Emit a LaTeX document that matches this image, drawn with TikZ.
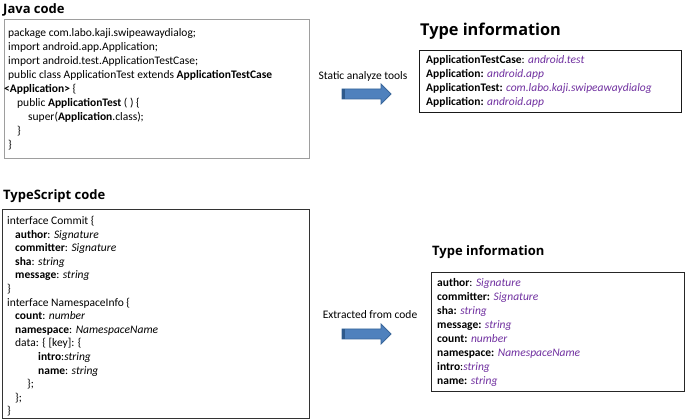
\documentclass[tikz,border=0pt]{standalone}
\usepackage{fontspec}
\setmainfont{Carlito}
\newfontfamily\headfont{Open Sans}
\definecolor{typ}{HTML}{7030A0}
\definecolor{arrfill}{HTML}{4F81BD}
\definecolor{arrdraw}{HTML}{3A679B}
\definecolor{arrdark}{HTML}{2E5A8C}
\newcommand\ty[1]{\textcolor{typ}{\textit{#1}}}
\begin{document}
\begin{tikzpicture}[x=1pt,y=-1pt,
  code/.style={anchor=base west, inner sep=0pt, font=\fontsize{11.5}{13}\selectfont},
  head/.style={anchor=base west, inner sep=0pt, font=\headfont\bfseries\fontsize{13}{15}\selectfont},
  bighead/.style={anchor=base west, inner sep=0pt, font=\headfont\bfseries\fontsize{16.3}{18}\selectfont},
  lbl/.style={anchor=base, inner sep=0pt, font=\fontsize{11.5}{13}\selectfont},
  box/.style={draw, line width=0.9pt, inner sep=0pt, fill=white},
  blockarrow/.style={fill=arrfill, draw=arrdraw, line width=0.8pt, line join=miter}]
\useasboundingbox (0,0) rectangle (685,419);
\fill[white] (0,0) rectangle (685,419);

% headings
\node[head] (hjava) at (3,14) {Java code};
\node[head] (hts) at (3,200) {TypeScript code};
\node[bighead] (hti1) at (420,36) {Type information};
\node[head] (hti2) at (432,256) {Type information};

% boxes
\node[box, draw=black!38, minimum width=305pt, minimum height=139pt] (javabox) at (156.5,88.5) {};
\node[box, draw=black!80, minimum width=307pt, minimum height=209pt] (tsbox) at (155.5,313.5) {};
\node[box, draw=black!90, minimum width=262pt, minimum height=62pt] (tibox1) at (550,81) {};
\node[box, draw=black!85, minimum width=253pt, minimum height=119pt] (tibox2) at (557.5,331.5) {};

% Java code
\foreach \x/\t [count=\i] in {
  8/{package com.labo.kaji.swipeawaydialog;},
  8/{import android.app.Application;},
  8/{import android.test.ApplicationTestCase;},
  8/{public class ApplicationTest extends \textbf{ApplicationTestCase}},
  4/{\textbf{<Application>} \{},
  17/{public \textbf{ApplicationTest} ( ) \{},
  28/{super(\textbf{Application}.class);},
  17/{\}},
  8/{\}}}
  \node[code] (j\i) at (\x, {37+14*(\i-1)}) {\t};

% Type info 1
\foreach \t [count=\i] in {
  {\textbf{ApplicationTestCase}: \ty{android.test}},
  {\textbf{Application:} \ty{android.app}},
  {\textbf{ApplicationTest:} \ty{com.labo.kaji.swipeawaydialog}},
  {\textbf{Application:} \ty{android.app}}}
  \node[code] (ta\i) at (426, {63.5+14*(\i-1)}) {\t};

% TypeScript code
\foreach \x/\t [count=\i] in {
  7/{interface Commit \{},
  15/{\textbf{author}: \textit{Signature}},
  15/{\textbf{committer}: \textit{Signature}},
  15/{\textbf{sha}: \textit{string}},
  15/{\textbf{message}: \textit{string}},
  7/{\}},
  7/{interface NamespaceInfo \{},
  15/{\textbf{count}: \textit{number}},
  15/{\textbf{namespace}: \textit{NamespaceName}},
  15/{data: \{ [key]: \{},
  38/{\textbf{intro}:\textit{string}},
  38/{\textbf{name}: \textit{string}},
  27/{\};},
  15/{\};},
  7/{\}}}
  \node[code] (s\i) at (\x, {224.5+13.6*(\i-1)}) {\t};

% Type info 2
\foreach \t [count=\i] in {
  {\textbf{author}: \ty{Signature}},
  {\textbf{committer:} \ty{Signature}},
  {\textbf{sha:} \ty{string}},
  {\textbf{message:} \ty{string}},
  {\textbf{count:} \ty{number}},
  {\textbf{namespace:} \ty{NamespaceName}},
  {\textbf{intro}:\ty{string}},
  {\textbf{name:} \ty{string}}}
  \node[code] (tb\i) at (437, {286.5+14*(\i-1)}) {\t};

% labels
\node[lbl] (l1) at (363,79.5) {Static analyze tools};
\node[lbl] (l2) at (370,318.5) {Extracted from code};

% block arrows
\draw[blockarrow] (342,89) -- (381,89) -- (381,84) -- (391,94) -- (381,104) -- (381,99) -- (342,99) -- cycle;
\fill[arrdark] (342.4,89.4) rectangle (345,98.6);
\draw[blockarrow] (342,329) -- (381,329) -- (381,324) -- (391,334) -- (381,344) -- (381,339) -- (342,339) -- cycle;
\fill[arrdark] (342.4,329.4) rectangle (345,338.6);
\end{tikzpicture}
\end{document}
